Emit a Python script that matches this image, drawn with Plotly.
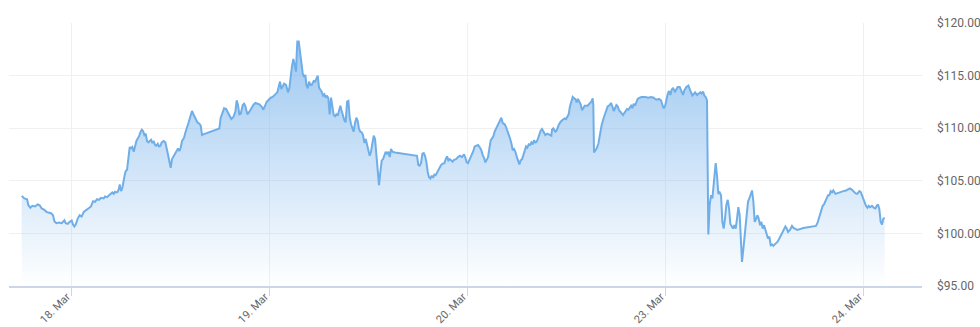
import plotly.graph_objects as go

# Tick labels / axis values
day_labels = ["18. Mar", "19. Mar", "20. Mar", "23. Mar", "24. Mar"]
day_start_hours = [0, 24, 48, 72, 96]  # session hours since 18 Mar 00:00 (weekend collapsed)
price_ticks = [95, 100, 105, 110, 115, 120]
price_tick_labels = [f"${v:.2f}" for v in price_ticks]

# (session hour, price in USD), grouped by trading day
q_mar18 = [
    (-5.98, 103.57), (-5.66, 103.32), (-5.33, 103.25), (-5.17, 102.68), (-4.93, 102.43), (-4.69, 102.62),
    (-4.36, 102.56), (-4.04, 102.75), (-3.80, 102.68), (-3.56, 102.37), (-3.23, 102.24), (-2.99, 102.05),
    (-2.75, 101.98), (-2.42, 101.92), (-2.18, 101.73), (-2.02, 101.16), (-1.78, 100.97), (-1.45, 101.03),
    (-1.13, 100.97), (-0.81, 101.25), (-0.65, 100.97), (-0.40, 100.90), (-0.16, 101.10), (0.08, 101.22),
    (0.24, 100.84), (0.40, 100.65), (0.57, 100.84), (0.81, 101.41), (1.05, 101.73), (1.29, 101.60),
    (1.54, 102.05), (1.86, 102.24), (2.18, 102.43), (2.42, 102.56), (2.67, 103.06), (2.91, 103.00),
    (3.15, 103.25), (3.39, 103.19), (3.64, 103.38), (3.96, 103.32), (4.12, 103.51), (4.36, 103.44),
    (4.61, 103.63), (4.85, 103.76), (5.01, 103.89), (5.17, 103.76), (5.33, 103.95), (5.50, 103.89),
    (5.66, 103.95), (5.82, 104.27), (5.90, 104.65), (6.06, 104.02), (6.22, 104.33), (6.47, 105.41),
    (6.63, 105.92), (6.79, 106.05), (6.95, 107.44), (7.11, 108.21), (7.27, 108.08), (7.43, 108.21),
    (7.60, 107.76), (7.76, 108.33), (7.92, 108.78), (8.08, 109.03), (8.24, 109.22), (8.40, 109.60),
    (8.57, 109.86), (8.73, 109.73), (8.89, 109.35), (9.05, 109.48), (9.21, 108.78), (9.37, 108.65),
    (9.54, 108.84), (9.70, 108.91), (9.86, 108.59), (10.02, 108.78), (10.18, 108.40), (10.34, 108.33),
    (10.51, 108.52), (10.67, 108.27), (10.83, 108.33), (10.99, 108.65), (11.23, 108.78),
    (11.43, 108.65), (11.68, 107.76), (11.92, 106.81), (12.08, 106.24), (12.24, 107.06), (12.48, 107.38),
    (12.73, 107.70), (12.97, 108.08), (13.13, 107.83), (13.29, 108.14), (13.45, 108.78), (13.70, 109.10),
    (13.86, 109.60), (14.02, 109.92), (14.26, 110.56), (14.51, 111.25), (14.67, 111.64), (14.83, 111.32),
    (15.07, 111.00), (15.31, 110.56), (15.56, 110.43), (15.72, 110.24), (15.88, 109.35), (16.04, 109.41),
    (17.98, 109.98), (18.14, 111.00), (18.38, 111.51), (18.55, 111.89), (18.79, 111.83), (19.03, 111.51),
    (19.27, 111.19), (19.43, 110.87), (19.68, 111.06), (19.92, 111.57), (20.08, 112.65), (20.24, 112.21),
    (20.40, 111.32), (20.57, 111.38), (20.81, 112.21), (20.97, 112.33), (21.13, 112.08), (21.37, 111.32),
    (21.62, 111.57), (21.86, 111.95), (22.10, 112.21), (22.34, 112.40), (22.59, 112.33), (22.83, 112.27),
    (23.07, 112.08), (23.31, 111.76), (23.56, 112.21), (23.72, 112.52), (23.96, 112.71),
]

q_mar19 = [
    (24.20, 112.90), (24.44, 112.97), (24.69, 113.22), (24.85, 113.29), (25.01, 113.41), (25.17, 114.11),
    (25.33, 114.43), (25.49, 113.73), (25.66, 114.05), (25.82, 114.24), (26.06, 114.11), (26.30, 113.41),
    (26.46, 113.79), (26.63, 115.00), (26.79, 115.95), (26.95, 116.59), (27.11, 116.08), (27.27, 115.38),
    (27.35, 116.97), (27.43, 118.24), (27.60, 118.24), (27.76, 117.29), (27.92, 115.83), (28.08, 115.25),
    (28.24, 114.87), (28.40, 115.06),
    (28.53, 114.11), (28.69, 113.79), (28.85, 114.43), (29.01, 114.11), (29.17, 114.11), (29.41, 114.49),
    (29.58, 114.43), (29.74, 114.68), (29.90, 115.00), (30.06, 113.86), (30.22, 113.67), (30.38, 113.48),
    (30.55, 113.10), (30.71, 113.22), (30.87, 112.90), (31.03, 113.10), (31.19, 112.84), (31.35, 111.32),
    (31.52, 112.90), (31.68, 112.21), (31.84, 111.25), (32.00, 111.13), (32.16, 111.32), (32.32, 111.19),
    (32.49, 111.83), (32.65, 112.14), (32.81, 111.64), (32.97, 111.13), (33.13, 110.75), (33.29, 110.56),
    (33.46, 112.52), (33.62, 112.59), (33.78, 111.00), (33.94, 110.37), (34.10, 109.92), (34.26, 109.67),
    (34.42, 110.49), (34.59, 111.00), (34.75, 110.68), (34.91, 109.92), (35.07, 109.67), (35.23, 109.60),
    (35.39, 109.35), (35.56, 108.59), (35.72, 108.97), (35.88, 108.46), (36.04, 108.08), (36.20, 107.38),
    (36.36, 107.76), (36.53, 108.71), (36.69, 109.29), (36.85, 108.97), (37.01, 107.44), (37.17, 105.54),
    (37.33, 104.59), (37.50, 105.86), (37.66, 106.94), (37.82, 107.06), (37.98, 107.38), (38.14, 107.76),
    (38.30, 107.57), (38.47, 107.76), (38.63, 107.25), (38.79, 108.02), (38.95, 107.76), (39.11, 107.70),
    (39.27, 107.70), (41.94, 107.38), (42.10, 106.49), (42.26, 106.43), (42.42, 106.68), (42.59, 107.57),
    (42.75, 107.63), (42.91, 107.38), (43.07, 106.81), (43.23, 105.86), (43.39, 105.35), (43.56, 105.22),
    (43.72, 105.48), (43.88, 105.29), (44.04, 105.60), (44.20, 105.54), (44.36, 105.79), (44.53, 105.92),
    (44.69, 106.30), (44.85, 106.49), (45.01, 106.62), (45.25, 106.68), (45.42, 107.06), (45.58, 107.32),
    (45.74, 106.94), (45.90, 107.06),
    (46.10, 106.94), (46.26, 106.81), (46.42, 107.00), (46.67, 107.06), (46.91, 107.25), (47.15, 107.38),
    (47.39, 107.25), (47.64, 107.51), (47.80, 107.19), (47.96, 106.75),
]

q_mar20 = [
    (48.12, 106.68), (48.28, 106.94), (48.44, 107.13), (48.61, 107.44), (48.77, 107.83), (48.93, 108.27),
    (49.09, 108.33), (49.33, 108.40), (49.58, 108.14), (49.74, 107.89), (49.90, 107.44), (50.06, 107.19),
    (50.22, 106.75), (50.38, 107.06), (50.55, 107.25), (50.71, 108.08), (50.87, 108.84), (51.03, 109.03),
    (51.19, 109.22), (51.35, 109.67), (51.60, 110.11), (51.84, 110.56), (52.00, 110.87), (52.16, 111.00),
    (52.32, 110.49), (52.57, 110.37), (52.73, 110.11), (52.89, 109.79), (53.05, 109.41), (53.21, 109.03),
    (53.37, 108.59), (53.54, 107.89), (53.70, 108.02), (53.86, 107.76), (54.02, 107.32), (54.18, 106.81),
    (54.34, 106.56), (54.50, 106.94), (54.67, 107.06), (54.83, 107.44), (54.99, 107.89), (55.15, 108.27),
    (55.31, 108.14), (55.47, 108.46), (55.64, 108.40), (55.80, 108.65), (55.96, 108.46), (56.12, 108.84),
    (56.28, 108.65), (56.44, 108.71), (56.61, 109.03), (56.77, 109.41), (56.93, 109.79), (57.09, 109.92),
    (57.25, 109.67), (57.49, 109.35), (57.74, 109.48), (57.98, 109.35), (58.22, 109.29), (58.30, 109.86),
    (58.46, 109.98), (58.71, 109.67), (58.87, 109.79), (59.11, 110.30), (59.35, 110.62), (59.60, 110.81),
    (59.84, 110.94), (60.00, 110.87), (60.16, 111.06), (60.32, 111.32), (60.48, 112.08), (60.65, 112.65),
    (60.81, 112.97), (60.97, 112.84), (61.13, 112.78), (61.29, 112.46), (61.45, 112.78), (61.62, 112.52),
    (61.78, 112.27), (61.94, 111.70), (62.10, 111.95), (62.26, 112.14), (62.42, 112.14), (62.59, 112.14),
    (62.83, 112.33), (63.07, 112.52), (63.23, 112.84), (63.31, 112.21), (63.39, 107.70), (63.56, 107.89),
    (63.72, 108.08),
    (63.92, 108.52), (64.08, 109.35), (64.32, 110.30), (64.57, 111.00), (64.81, 111.64), (65.05, 112.08),
    (65.29, 112.21), (65.45, 112.40), (65.62, 112.08), (65.78, 111.64), (65.94, 111.89), (66.10, 112.21),
    (66.26, 112.08), (66.42, 111.70), (66.59, 111.57), (66.75, 111.38), (66.91, 111.25), (67.07, 111.44),
    (67.23, 111.64), (67.39, 111.83), (67.56, 111.76), (67.72, 111.95), (67.88, 112.14), (68.04, 111.89),
    (68.20, 112.33), (68.36, 112.14), (68.53, 112.59), (68.69, 112.78), (68.93, 112.90), (69.17, 112.97),
    (69.58, 112.97), (69.98, 112.90), (70.30, 112.97), (70.63, 112.90), (70.79, 112.78), (71.03, 112.71),
    (71.27, 112.78), (71.52, 112.65), (71.68, 112.21), (71.84, 111.89),
]

q_mar23 = [
    (72.00, 112.08), (72.16, 112.84), (72.32, 113.22), (72.48, 113.54), (72.65, 113.16), (72.81, 113.67),
    (72.97, 113.79), (73.21, 113.48), (73.37, 113.73), (73.54, 113.92), (73.78, 113.92), (74.02, 113.54),
    (74.18, 113.16), (74.34, 113.60), (74.59, 113.92), (74.83, 114.05), (74.99, 113.79), (75.15, 113.41),
    (75.31, 113.10), (75.47, 113.29), (75.64, 113.41), (75.88, 113.16), (76.04, 113.29), (76.28, 113.41),
    (76.44, 113.29), (76.61, 113.48), (76.77, 113.10), (76.93, 112.97), (77.09, 112.65), (77.25, 99.89),
    (77.41, 102.68), (77.58, 103.63), (77.74, 103.32), (77.90, 104.90), (78.06, 105.86), (78.14, 106.68),
    (78.30, 105.54), (78.46, 103.76), (78.63, 103.89), (78.79, 103.63), (78.95, 101.10), (79.11, 100.46),
    (79.27, 101.41), (79.43, 102.68), (79.60, 103.19), (79.76, 102.37), (79.92, 100.90), (80.08, 100.65),
    (80.24, 100.46), (80.40, 100.78), (80.57, 100.46), (80.73, 101.41), (80.89, 102.49), (81.05, 101.73),
    (81.17, 99.83), (81.33, 97.29), (81.50, 98.56), (81.66, 99.83), (81.90, 101.10), (82.06, 103.00),
    (82.22, 103.32), (82.38, 103.63), (82.55, 104.08), (82.71, 103.00), (82.87, 101.10), (83.03, 101.35),
    (83.19, 101.73), (83.35, 101.41), (83.52, 100.78), (83.68, 101.10), (83.84, 100.46), (84.00, 100.78),
    (84.16, 100.33), (84.32, 99.83), (84.48, 99.51), (84.65, 99.70), (84.81, 98.87), (84.97, 98.94),
    (85.13, 98.81), (85.37, 99.00), (85.62, 99.19), (85.86, 99.51), (86.10, 99.89), (86.34, 100.14),
    (86.59, 100.65), (86.75, 100.46), (86.91, 100.14), (87.15, 100.33), (87.39, 100.71), (87.56, 100.52),
    (87.80, 100.46), (88.04, 100.33), (88.77, 100.52), (89.58, 100.65), (90.30, 100.71), (90.47, 100.97),
    (90.63, 101.35), (90.79, 101.86), (90.95, 102.05), (91.11, 102.62), (91.27, 102.75), (91.43, 103.00),
    (91.60, 103.32), (91.76, 103.63), (91.92, 103.63), (92.08, 104.02), (92.24, 103.89), (92.40, 104.08),
    (92.65, 103.76), (92.89, 103.83), (93.13, 103.95), (93.37, 104.02), (93.62, 104.02), (93.94, 104.08),
    (94.18, 104.21), (94.42, 104.27), (94.67, 104.14), (94.83, 104.02), (95.07, 103.83), (95.31, 103.76),
    (95.56, 104.02), (95.72, 103.95), (95.88, 103.57),
]

q_mar24 = [
    (96.04, 103.32), (96.20, 103.00), (96.36, 102.62), (96.53, 102.43), (96.69, 102.62), (96.85, 102.49),
    (97.09, 102.62), (97.33, 102.43), (97.50, 102.37), (97.66, 102.62), (97.82, 102.75), (97.98, 102.30),
    (98.14, 101.10), (98.30, 100.84), (98.47, 101.41), (98.63, 101.48),
]

quotes = q_mar18 + q_mar19 + q_mar20 + q_mar23 + q_mar24
hours = [q[0] for q in quotes]
price = [q[1] for q in quotes]

line_color = "#70aee8"

fig = go.Figure()
fig.add_trace(go.Scatter(
    x=hours, y=price, mode="lines",
    line=dict(color=line_color, width=2),
    fill="tozeroy",
    fillgradient=dict(
        type="vertical",
        colorscale=[[0, "rgba(124,181,236,0.0)"], [1, "rgba(124,181,236,0.75)"]],
        start=95, stop=118.3,
    ),
    hoverinfo="skip", showlegend=False,
))

fig.update_layout(
    width=980, height=327,
    margin=dict(l=9, r=58, t=23, b=41),
    paper_bgcolor="white", plot_bgcolor="white",
    showlegend=False,
    font=dict(family="Roboto, 'Open Sans', sans-serif", size=11, color="#666666"),
)
fig.update_xaxes(
    range=[-7.52, 103.15], tickmode="array", tickvals=day_start_hours, ticktext=day_labels,
    tickangle=-45, showgrid=True, gridcolor="#f0f0f0", gridwidth=1,
    showline=True, linecolor="#ccd6eb", linewidth=2,
    ticks="outside", ticklen=8, tickwidth=1, tickcolor="#ccd6eb",
    ticklabelstandoff=-10, ticklabelshift=-4,
    zeroline=False, automargin=False, fixedrange=True,
    tickfont=dict(size=11, color="#666666"),
)
fig.update_yaxes(
    range=[95, 120], side="right", tickmode="array", tickvals=price_ticks,
    ticktext=price_tick_labels,
    showgrid=True, gridcolor="#f0f0f0", gridwidth=1,
    zeroline=False, showline=False, ticks="", ticklabelstandoff=14,
    automargin=False, fixedrange=True,
    tickfont=dict(size=12, color="#666666"),
)

fig.write_html("out.html")
